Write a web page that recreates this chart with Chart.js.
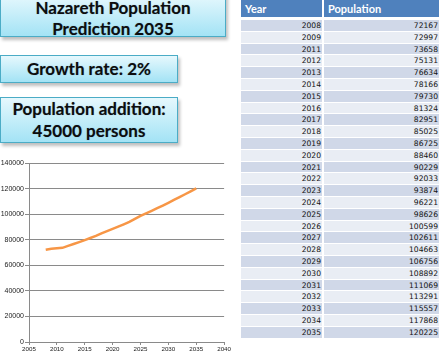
<!DOCTYPE html>
<html>
<head>
<meta charset="utf-8">
<script src="https://cdn.jsdelivr.net/npm/chart.js@4"></script>
<style>
  html, body { margin: 0; padding: 0; background: #fff; }
  body { width: 447px; height: 353px; position: relative; overflow: hidden; }
  .box {
    position: absolute;
    left: 0;
    box-sizing: border-box;
    border: 1px solid #4bacc6;
    background: linear-gradient(#e6f8fd, #a3e3f5);
    box-shadow: 2px 3px 3px rgba(0, 0, 0, 0.25);
    font-family: "Lato", sans-serif;
    font-weight: bold;
    color: #0d0d0d;
    text-align: center;
    text-shadow: 0 0 1px rgba(0, 40, 80, 0.4);
  }
  #titleBox { top: -6px; width: 226px; height: 43px; font-size: 17px; line-height: 21px; padding-top: 2px; }
  #rateBox { top: 55px; width: 178px; height: 28px; font-size: 17px; line-height: 26px; }
  #addBox { top: 97px; width: 178px; height: 46px; font-size: 17px; line-height: 22px; padding-top: 0; }
  #chartWrap { position: absolute; left: 0; top: 150px; width: 232px; height: 203px; }
  #table { position: absolute; left: 241px; top: 0; width: 198px; font-family: "DejaVu Sans", sans-serif; }
  .row { display: flex; height: 10.8px; margin-bottom: 1px; }
  .row div { box-sizing: border-box; text-align: right; font-size: 7.6px; line-height: 11px; color: #111; padding-right: 1px; }
  .c1 { width: 81px; margin-right: 2px; }
  .c2 { width: 115px; }
  .hdr { height: 17px; margin-bottom: 3px; }
  .hdr div { background: #4f81bd; color: #fff; text-align: left; font-family: "Lato", sans-serif; font-weight: bold; font-size: 11px; line-height: 17px; padding-left: 4px; }
  .dark div { background: #d0d8e8; }
  .light div { background: #e9edf4; }
</style>
</head>
<body>
<div class="box" id="titleBox">Nazareth Population<br>Prediction 2035</div>
<div class="box" id="rateBox">Growth rate: 2%</div>
<div class="box" id="addBox">Population addition:<br>45000 persons</div>
<div id="chartWrap"><canvas id="chart"></canvas></div>
<div id="table"></div>
<script>
const years = [2008, 2009, 2011, 2012, 2013, 2014, 2015, 2016, 2017, 2018, 2019, 2020, 2021,
    2022, 2023, 2024, 2025, 2026, 2027, 2028, 2029, 2030, 2031, 2032, 2033, 2034, 2035];
const population = [72167, 72997, 73658, 75131, 76634, 78166, 79730, 81324, 82951, 85025, 86725,
    88460, 90229, 92033, 93874, 96221, 98626, 100599, 102611, 104663, 106756, 108892, 111069,
    113291, 115557, 117868, 120225];
const headers = ["Year", "Population"];

// table on the right
const table = document.getElementById("table");
let html = `<div class="row hdr"><div class="c1">${headers[0]}</div><div class="c2">${headers[1]}</div></div>`;
years.forEach((y, i) => {
    html += `<div class="row ${i % 2 === 0 ? "dark" : "light"}"><div class="c1">${y}</div><div class="c2">${population[i]}</div></div>`;
});
table.innerHTML = html;

const gridColor = "#8a8a8a";

const config = {
    type: "line",
    data: {
        datasets: [
            {
                data: years.map((y, i) => ({ x: y, y: population[i] })),
                borderColor: "#f79646",
                borderWidth: 2.5,
                pointRadius: 0,
                tension: 0,
                fill: false,
            },
        ],
    },
    options: {
        responsive: true,
        maintainAspectRatio: false,
        animation: false,
        layout: {
            padding: { top: 13, right: 7, left: 0, bottom: 0 },
        },
        plugins: {
            legend: { display: false },
            tooltip: { enabled: false },
        },
        scales: {
            x: {
                type: "linear",
                min: 2005,
                max: 2040,
                ticks: {
                    stepSize: 5,
                    color: "#1a1a1a",
                    font: { family: "Liberation Sans", size: 6.2 },
                    padding: 1,
                    maxRotation: 0,
                    callback: (v) => String(v),
                },
                grid: {
                    drawOnChartArea: false,
                    drawTicks: true,
                    tickLength: 3,
                    color: gridColor,
                },
                border: { color: gridColor, width: 1 },
                afterFit: (scale) => { scale.height = 11; },
            },
            y: {
                min: 0,
                max: 140000,
                ticks: {
                    stepSize: 20000,
                    color: "#1a1a1a",
                    font: { family: "Liberation Sans", size: 7 },
                    padding: 1,
                    callback: (v) => String(v),
                },
                grid: {
                    color: gridColor,
                    tickLength: 4,
                },
                border: { color: gridColor, width: 1 },
                afterFit: (scale) => { scale.width = 29; },
            },
        },
    },
};

new Chart(document.getElementById("chart"), config);
</script>
</body>
</html>
